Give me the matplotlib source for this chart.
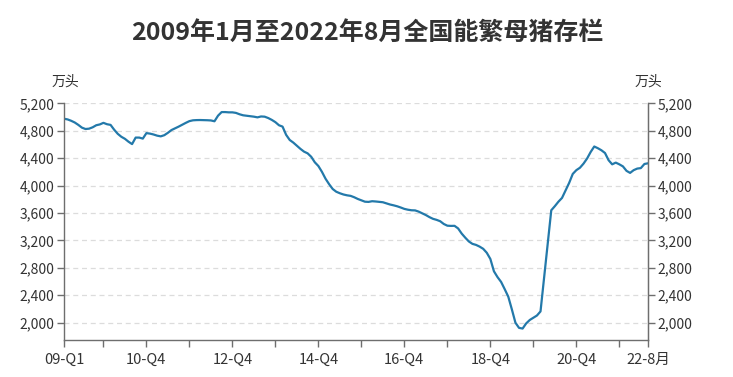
import numpy as np
import matplotlib
matplotlib.use("Agg")
import matplotlib.pyplot as plt
from matplotlib.ticker import FuncFormatter

plt.rcParams['font.family'] = ['Noto Sans CJK SC', 'DejaVu Sans']

# monthly breeding sow inventory (万头), Jan 2009 .. Aug 2022
v2009 = [4975, 4965, 4945, 4920, 4885, 4845, 4825, 4830, 4850, 4880, 4892, 4915]
v2010 = [4895, 4885, 4815, 4755, 4712, 4682, 4640, 4605, 4700, 4700, 4685, 4765]
v2011 = [4758, 4745, 4728, 4718, 4735, 4770, 4810, 4835, 4860, 4888, 4915, 4940]
v2012 = [4952, 4955, 4956, 4955, 4953, 4950, 4938, 5020, 5072, 5072, 5068, 5068]
v2013 = [5060, 5040, 5025, 5018, 5010, 5005, 4995, 5008, 5005, 4985, 4958, 4925]
v2014 = [4880, 4860, 4740, 4665, 4627, 4580, 4535, 4495, 4470, 4420, 4340, 4285]
v2015 = [4200, 4100, 4020, 3950, 3910, 3888, 3870, 3858, 3850, 3830, 3805, 3785]
v2016 = [3765, 3762, 3772, 3768, 3762, 3757, 3740, 3724, 3712, 3698, 3680, 3660]
v2017 = [3648, 3640, 3638, 3620, 3595, 3570, 3540, 3515, 3500, 3480, 3440, 3415]
v2018 = [3412, 3413, 3375, 3300, 3240, 3185, 3150, 3135, 3110, 3078, 3020, 2930]
v2019 = [2750, 2665, 2595, 2490, 2380, 2195, 2000, 1925, 1915, 1990, 2040, 2073]
v2020 = [2105, 2165, 2660, 3150, 3640, 3700, 3765, 3820, 3930, 4040, 4170, 4225]
v2021 = [4260, 4320, 4395, 4490, 4570, 4545, 4515, 4475, 4370, 4310, 4335, 4310]
v2022 = [4280, 4215, 4185, 4225, 4248, 4255, 4315, 4325]

labels_shown = {0: '09-Q1', 23: '10-Q4', 47: '12-Q4', 71: '14-Q4',
                95: '16-Q4', 119: '18-Q4', 143: '20-Q4', 163: '22-8月'}
yticks = [2000, 2400, 2800, 3200, 3600, 4000, 4400, 4800, 5200]

values = np.array(v2009 + v2010 + v2011 + v2012 + v2013 + v2014 + v2015 +
                  v2016 + v2017 + v2018 + v2019 + v2020 + v2021 + v2022)
x = np.arange(len(values))

W, H = 733, 377
fig = plt.figure(figsize=(W / 100, H / 100), dpi=100)
ax = fig.add_axes([64 / W, (H - 340) / H, (648 - 64) / W, (340 - 103.3) / H])

ax.plot(x, values, color='#2379aa', lw=1.6, solid_joinstyle='round')

ax.set_xlim(0, len(values) - 1)
ax.set_ylim(1748, 5200)

# ticks every December plus both ends
tick_pos = [0] + [11 + 12 * k for k in range(14) if 11 + 12 * k < len(values) - 1] + [len(values) - 1]
ax.set_xticks(tick_pos)
ax.set_xticklabels([labels_shown.get(t, '') for t in tick_pos])

ax.set_yticks(yticks)
fmt = FuncFormatter(lambda v, p: f'{int(v):,}')
ax.yaxis.set_major_formatter(fmt)
ax.grid(axis='y', color='#dcdcdc', ls=(0, (4, 3)), lw=0.9)
ax.set_axisbelow(True)

ax.spines['top'].set_visible(False)
for s in ['left', 'right', 'bottom']:
    ax.spines[s].set_color('#6e6e6e')
    ax.spines[s].set_linewidth(1.0)

ax.tick_params(axis='both', colors='#6e6e6e', labelcolor='#333333', length=5, width=1.0,
               labelsize=10, pad=2)
ax.tick_params(axis='x', pad=4, labelsize=10.5)

ax2 = ax.twinx()
ax2.set_ylim(ax.get_ylim())
ax2.set_yticks(yticks)
ax2.yaxis.set_major_formatter(fmt)
for s in ['top', 'left', 'bottom']:
    ax2.spines[s].set_visible(False)
ax2.spines['right'].set_color('#6e6e6e')
ax2.tick_params(axis='y', colors='#6e6e6e', labelcolor='#333333', length=5, width=1.0,
                labelsize=10, pad=2)

fig.text(65 / W, 1 - 82 / H, '万头', ha='center', va='center', fontsize=10, color='#333333')
fig.text(648 / W, 1 - 82 / H, '万头', ha='center', va='center', fontsize=10, color='#333333')

fig.text(367 / W, 1 - 33 / H, '2009年1月至2022年8月全国能繁母猪存栏', ha='center', va='center',
         fontsize=18, fontweight='bold', color='#333333')

fig.savefig('out.png', dpi=100)
